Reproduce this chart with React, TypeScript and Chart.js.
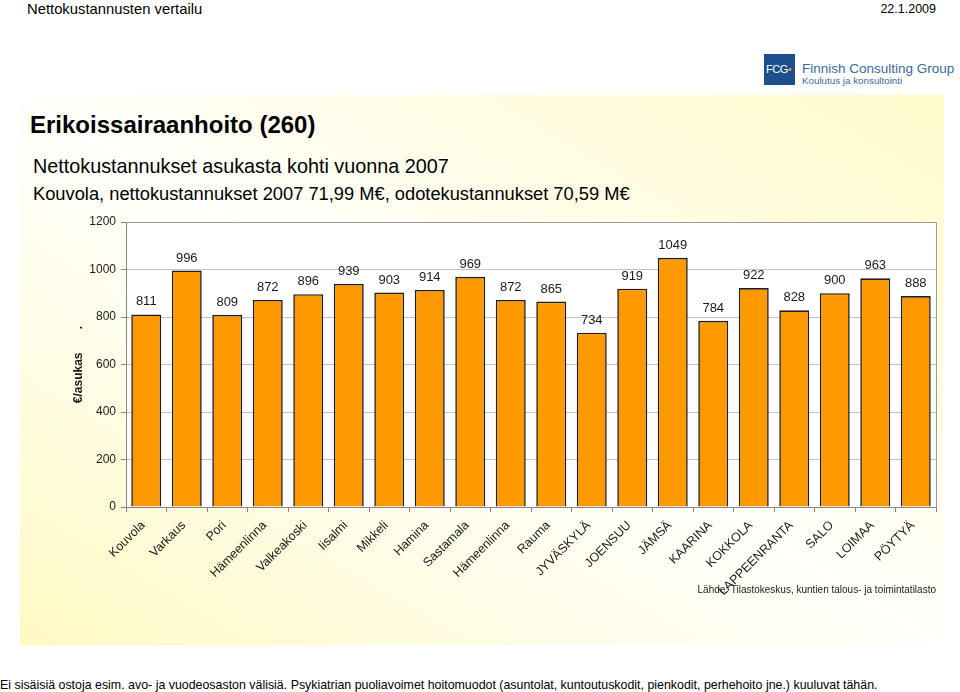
import React, { useEffect, useRef } from "react";
import { Chart, registerables } from "chart.js";

Chart.register(...registerables);

const categories: string[] = [
  "Kouvola", "Varkaus", "Pori", "Hämeenlinna", "Valkeakoski", "Iisalmi", "Mikkeli",
  "Hamina", "Sastamala", "Hämeenlinna", "Rauma", "JYVÄSKYLÄ", "JOENSUU", "JÄMSÄ",
  "KAARINA", "KOKKOLA", "LAPPEENRANTA", "SALO", "LOIMAA", "PÖYTYÄ",
];
const values: number[] = [
  811, 996, 809, 872, 896, 939, 903, 914, 969, 872, 865, 734, 919, 1049, 784, 922, 828, 900, 963, 888,
];
const yTicks: number[] = [0, 200, 400, 600, 800, 1000, 1200];

const FONT = "Arial, 'Liberation Sans', sans-serif";

const plotFrame = {
  id: "plotFrame",
  beforeDraw(chart: any) {
    const { ctx, chartArea } = chart;
    ctx.save();
    ctx.fillStyle = "#ffffff";
    ctx.fillRect(chartArea.left, chartArea.top, chartArea.right - chartArea.left, chartArea.bottom - chartArea.top);
    ctx.restore();
  },
  afterDraw(chart: any) {
    const { ctx, chartArea } = chart;
    ctx.save();
    ctx.strokeStyle = "#9a9a9a";
    ctx.lineWidth = 1;
    ctx.beginPath();
    ctx.moveTo(chartArea.left, chartArea.top + 0.5);
    ctx.lineTo(chartArea.right + 0.5, chartArea.top + 0.5);
    ctx.lineTo(chartArea.right + 0.5, chartArea.bottom);
    ctx.stroke();
    ctx.restore();
  },
};

const valueLabels = {
  id: "valueLabels",
  afterDatasetsDraw(chart: any) {
    const { ctx } = chart;
    const meta = chart.getDatasetMeta(0);
    ctx.save();
    ctx.font = `13px ${FONT}`;
    ctx.fillStyle = "#1a1a1a";
    ctx.textAlign = "center";
    ctx.textBaseline = "bottom";
    meta.data.forEach((bar: any, i: number) => {
      ctx.fillText(String(values[i]), bar.x, bar.y - 6);
    });
    ctx.restore();
  },
};

function BarChart() {
  const ref = useRef<HTMLCanvasElement | null>(null);
  useEffect(() => {
    if (!ref.current) return;
    const chart = new Chart(ref.current, {
      type: "bar",
      data: {
        labels: categories,
        datasets: [
          {
            data: values,
            backgroundColor: "#FF9900",
            borderColor: "#1e1e1e",
            borderWidth: 1.6,
            categoryPercentage: 1,
            barPercentage: 0.74,
          },
        ],
      },
      options: {
        animation: false,
        responsive: false,
        events: [],
        layout: { padding: { left: 51, top: 17, right: 8, bottom: 0 } },
        plugins: { legend: { display: false }, tooltip: { enabled: false } },
        scales: {
          x: {
            afterFit: (s: any) => { s.height = 98; },
            grid: { display: true, drawOnChartArea: false, drawTicks: true, tickLength: 5, color: "#888888", offset: true },
            border: { display: true, color: "#888888" },
            ticks: {
              autoSkip: false,
              minRotation: 45,
              maxRotation: 45,
              padding: 6,
              labelOffset: -3,
              color: "#1a1a1a",
              font: { family: FONT, size: 12.5 },
            },
          },
          y: {
            min: 0,
            max: 1200,
            afterFit: (s: any) => { s.width = 55; },
            afterBuildTicks: (s: any) => { s.ticks = yTicks.map((v) => ({ value: v })); },
            grid: { color: "#c4c4c4", tickLength: 5, tickColor: "#888888" },
            border: { display: true, color: "#888888" },
            ticks: {
              padding: 5,
              color: "#1a1a1a",
              font: { family: FONT, size: 12 },
              callback: (v: any) => String(v),
            },
            title: {
              display: true,
              text: "€/asukas       .",
              color: "#1a1a1a",
              font: { family: FONT, size: 12, weight: "bold" },
              padding: { top: 0, bottom: 0 },
            },
          },
        },
      },
      plugins: [plotFrame, valueLabels],
    } as any);
    return () => chart.destroy();
  }, []);
  return (
    <canvas
      ref={ref}
      width={924}
      height={400}
      style={{ position: "absolute", left: 20, top: 205, width: 924, height: 400 }}
    />
  );
}

export default function App() {
  const txt: React.CSSProperties = { position: "absolute", fontFamily: FONT, color: "#000", whiteSpace: "nowrap", lineHeight: 1 };
  return (
    <div style={{ position: "absolute", left: 0, top: 0, width: 960, height: 692, background: "#ffffff", overflow: "hidden" }}>
      <div style={{ ...txt, left: 27, top: 2, fontSize: 14.8 }}>Nettokustannusten vertailu</div>
      <div style={{ ...txt, right: 24, top: 3, fontSize: 12.5 }}>22.1.2009</div>

      {/* logo */}
      <div style={{ position: "absolute", left: 764, top: 54, width: 31, height: 31, background: "#1c4f8e" }} />
      <div style={{ ...txt, left: 766, top: 64, fontSize: 11, color: "#ffffff", letterSpacing: -0.5 }}>
        FCG<span style={{ color: "#f0a020" }}>•</span>
      </div>
      <div style={{ ...txt, left: 802, top: 62, fontSize: 13.5, color: "#3a6a9c" }}>Finnish Consulting Group</div>
      <div style={{ ...txt, left: 802, top: 76, fontSize: 9.8, color: "#3a6a9c" }}>Koulutus ja konsultointi</div>

      {/* yellow panel */}
      <div
        style={{
          position: "absolute",
          left: 20,
          top: 95,
          width: 924,
          height: 550,
          background: "linear-gradient(to top right, #fff9c2 0%, #fffde8 30%, #fffffb 50%, #fffde6 70%, #fffaca 100%)",
        }}
      />

      <div style={{ ...txt, left: 30, top: 113, fontSize: 24, fontWeight: "bold" }}>Erikoissairaanhoito (260)</div>
      <div style={{ ...txt, left: 33, top: 157, fontSize: 19.8 }}>Nettokustannukset asukasta kohti vuonna 2007</div>
      <div style={{ ...txt, left: 33, top: 185, fontSize: 18.3 }}>
        Kouvola, nettokustannukset 2007 71,99 M€, odotekustannukset 70,59 M€
      </div>

      <BarChart />

      <div style={{ ...txt, right: 24, top: 585, fontSize: 10, color: "#1a1a1a" }}>
        Lähde: Tilastokeskus, kuntien talous- ja toimintatilasto
      </div>

      <div style={{ ...txt, left: 0, top: 679, fontSize: 12.4 }}>
        Ei sisäisiä ostoja esim. avo- ja vuodeosaston välisiä. Psykiatrian puoliavoimet hoitomuodot (asuntolat, kuntoutuskodit, pienkodit, perhehoito jne.) kuuluvat tähän.
      </div>
    </div>
  );
}
